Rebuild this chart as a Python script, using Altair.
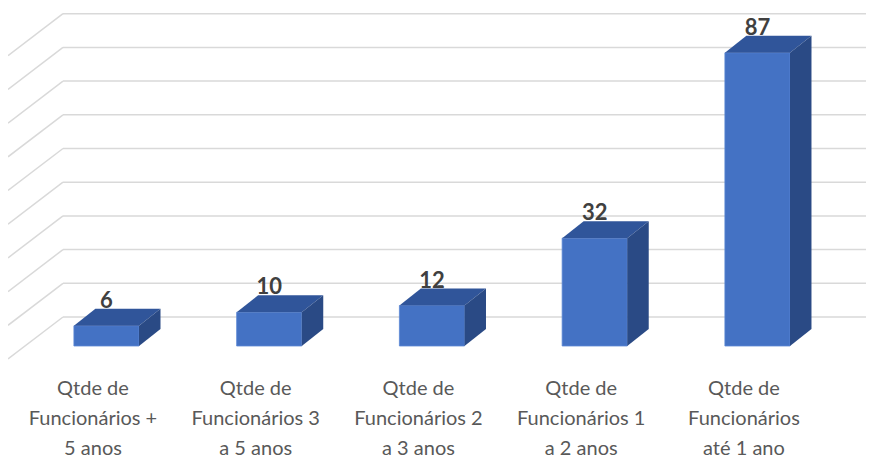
import json
import altair as alt
import pandas as pd

# ---- data ----
categories = [
    "Qtde de Funcionários + 5 anos",
    "Qtde de Funcionários 3 a 5 anos",
    "Qtde de Funcionários 2 a 3 anos",
    "Qtde de Funcionários 1 a 2 anos",
    "Qtde de Funcionários até 1 ano",
]
values = [6, 10, 12, 32, 87]
label_lines = [
    ["Qtde de", "Funcionários +", "5 anos"],
    ["Qtde de", "Funcionários 3", "a 5 anos"],
    ["Qtde de", "Funcionários 2", "a 3 anos"],
    ["Qtde de", "Funcionários 1", "a 2 anos"],
    ["Qtde de", "Funcionários", "até 1 ano"],
]
grid_values = [0, 10, 20, 30, 40, 50, 60, 70, 80, 90]

# ---- styling / geometry constants ----
W, H = 858, 351
HW = 0.2      # half width of front face (x units)
DX = 0.132    # depth shift in x (x units)
DY = 5.04     # depth shift in y (value units)
xscale = alt.Scale(domain=[-0.605, 4.667], nice=False, zero=False)
yscale = alt.Scale(domain=[-3.86, 100.29], nice=False, zero=False)
FRONT, TOP, SIDE = "#4472C4", "#30559A", "#2A4A85"
GRID = "#D9D9D9"
FONT = "Lato"

bars = pd.DataFrame({"idx": list(range(len(values))), "value": values, "cat": categories})

rows = []
for i, v in enumerate(values):
    rows += [
        {"bar": i, "face": "side", "px": i + HW, "py": v, "pyb": 0},
        {"bar": i, "face": "side", "px": i + HW + DX, "py": v + DY, "pyb": DY},
        {"bar": i, "face": "top", "px": i - HW, "py": v, "pyb": v},
        {"bar": i, "face": "top", "px": i - HW + DX, "py": v + DY, "pyb": v},
        {"bar": i, "face": "top", "px": i + HW, "py": v + DY, "pyb": v},
        {"bar": i, "face": "top", "px": i + HW + DX, "py": v + DY, "pyb": v + DY},
    ]
faces = pd.DataFrame(rows)
grid = pd.DataFrame({"v": grid_values})

wall = alt.Chart(grid).mark_rule(color=GRID, strokeWidth=1.5, yOffset=-29).encode(
    y=alt.Y("v:Q", scale=yscale, axis=None),
    x=alt.value(55),
    x2=alt.value(W),
)
side_wall = alt.Chart(grid).mark_rule(color=GRID, strokeWidth=1.5, yOffset=13, y2Offset=-29).encode(
    y=alt.Y("v:Q", scale=yscale, axis=None),
    y2="v:Q",
    x=alt.value(0),
    x2=alt.value(55),
)

label_expr = json.dumps(label_lines, ensure_ascii=False) + "[datum.value]"

front = alt.Chart(bars).transform_calculate(
    xl=f"datum.idx - {HW}", xr=f"datum.idx + {HW}", base="0"
).mark_rect(color=FRONT, stroke="#5B86D4", strokeWidth=0.8).encode(
    x=alt.X(
        "xl:Q",
        scale=xscale,
        axis=alt.Axis(
            values=[0, 1, 2, 3, 4],
            labelExpr=label_expr,
            title=None,
            domain=False,
            ticks=False,
            tickSize=0,
            grid=False,
            labelFont=FONT,
            labelFontSize=20,
            labelColor="#595959",
            labelAlign="center",
            labelBaseline="top",
            labelLineHeight=30,
            labelPadding=19,
            labelOffset=-14,
            labelFlush=False,
            labelOverlap=False,
            labelBound=False,
        ),
    ),
    x2="xr:Q",
    y=alt.Y("base:Q", scale=yscale, axis=None),
    y2="value:Q",
)


def face_layer(name, color):
    return alt.Chart(faces).transform_filter(alt.datum.face == name).mark_area(
        color=color, interpolate="linear", opacity=1
    ).encode(
        x=alt.X("px:Q", scale=xscale),
        y=alt.Y("py:Q", scale=yscale, stack=None),
        y2=alt.Y2("pyb:Q"),
        detail="bar:N",
    )


top = face_layer("top", TOP)
side = face_layer("side", SIDE)

text = alt.Chart(bars).transform_calculate(ty=f"datum.value + {DY}").mark_text(
    font=FONT, fontSize=22, fontWeight="bold", color="#404040", baseline="alphabetic", dy=-1
).encode(
    x=alt.X("idx:Q", scale=xscale),
    y=alt.Y("ty:Q", scale=yscale),
    text="value:Q",
)

chart = alt.layer(wall, side_wall, front, top, side, text).properties(
    width=W,
    height=H,
    autosize=alt.AutoSizeParams(type="none"),
    padding={"left": 0, "top": 0, "right": 0, "bottom": 100},
).configure_view(stroke=None)

chart.save("out.html", embed_options={"renderer": "svg", "actions": False})
